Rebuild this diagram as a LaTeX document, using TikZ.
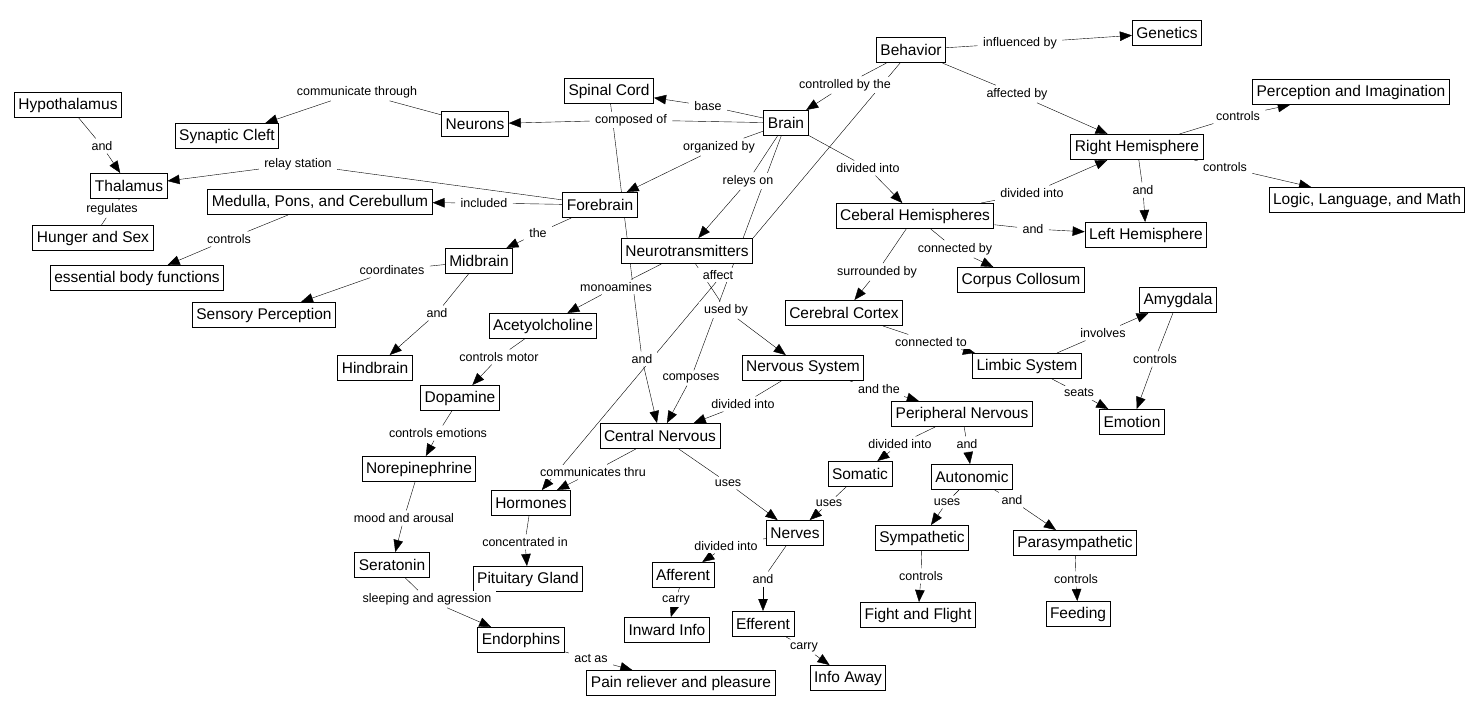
\documentclass[tikz,border=0pt]{standalone}
\usepackage{fontspec}
\setmainfont{Liberation Sans}
\usetikzlibrary{arrows.meta,backgrounds,calc}

\begin{document}
\begin{tikzpicture}[x=1pt,y=-1pt,line width=1pt,
  concept/.style={draw,fill=white,font=\fontsize{15.5}{18}\selectfont,inner xsep=4pt,inner ysep=2pt,minimum height=25pt},
  link/.style={fill=white,font=\fontsize{12.5}{15}\selectfont,inner xsep=5pt,inner ysep=2.5pt},
  arr/.style={-{Triangle[length=12pt,width=9.5pt]}}]
\useasboundingbox (0,0) rectangle (1473,715);

% concepts
\node[concept] (behavior) at (911,50) {Behavior};
\node[concept] (genetics) at (1167,33) {Genetics};
\node[concept] (spinal) at (609,91) {Spinal Cord};
\node[concept] (neurons) at (475,124) {Neurons};
\node[concept] (brain) at (786,123) {Brain};
\node[concept] (hypo) at (68,105) {Hypothalamus};
\node[concept] (synaptic) at (227,136) {Synaptic Cleft};
\node[concept] (thalamus) at (129,186) {Thalamus};
\node[concept] (medulla) at (320,202) {Medulla, Pons, and Cerebullum};
\node[concept] (forebrain) at (600,205) {Forebrain};
\node[concept] (hunger) at (93,238) {Hunger and Sex};
\node[concept] (essential) at (137,278) {essential body functions};
\node[concept] (neurotr) at (687,251) {Neurotransmitters};
\node[concept] (midbrain) at (479,261) {Midbrain};
\node[concept] (sensory) at (264,315) {Sensory Perception};
\node[concept] (acetyl) at (543,326) {Acetyolcholine};
\node[concept] (hindbrain) at (375,368) {Hindbrain};
\node[concept] (dopamine) at (460,398) {Dopamine};
\node[concept] (central) at (660,436) {Central Nervous};
\node[concept] (norepi) at (419,469) {Norepinephrine};
\node[concept] (hormones) at (531,503) {Hormones};
\node[concept] (seratonin) at (392,565) {Seratonin};
\node[concept] (pituitary) at (528,579) {Pituitary Gland};
\node[concept] (endorphins) at (521,640) {Endorphins};
\node[concept] (pain) at (681,683) {Pain reliever and pleasure};
\node[concept] (nervous) at (803,368) {Nervous System};
\node[concept] (ceberal) at (915,216) {Ceberal Hemispheres};
\node[concept] (righthemi) at (1137,147) {Right Hemisphere};
\node[concept] (perception) at (1351,92) {Perception and Imagination};
\node[concept] (logic) at (1367,200) {Logic, Language, and Math};
\node[concept] (lefthemi) at (1146,235) {Left Hemisphere};
\node[concept] (corpus) at (1021,280) {Corpus Collosum};
\node[concept] (cortex) at (844,313) {Cerebral Cortex};
\node[concept] (limbic) at (1027,366) {Limbic System};
\node[concept] (amygdala) at (1178,300) {Amygdala};
\node[concept] (emotion) at (1132,422) {Emotion};
\node[concept] (peripheral) at (962,414) {Peripheral Nervous};
\node[concept] (somatic) at (860,474) {Somatic};
\node[concept] (autonomic) at (972,477) {Autonomic};
\node[concept] (nerves) at (795,533) {Nerves};
\node[concept] (sympathetic) at (922,538) {Sympathetic};
\node[concept] (parasym) at (1075,543) {Parasympathetic};
\node[concept] (efferent) at (763,624) {Efferent};
\node[concept] (fight) at (918,615) {Fight and Flight};
\node[concept] (feeding) at (1078,614) {Feeding};
\node[concept] (infoaway) at (848,678) {Info Away};
\node[concept] (afferent) at (683,575) {Afferent};
\node[concept] (inward) at (667,630) {Inward Info};

% linking phrases
\node[link] (influenced) at (1020,43) {influenced by};
\node[link] (controlledby) at (845,85) {controlled by the};
\node[link] (affectedby) at (1017,94) {affected by};
\node[link] (base) at (708,106) {base};
\node[link] (composedof) at (631,120) {composed of};
\node[link] (organized) at (719,147) {organized by};
\node[link] (releys) at (748,181) {releys on};
\node[link] (divbrain) at (868,168) {divided into};
\node[link] (hypoand) at (102,146) {and};
\node[link] (commthrough) at (357,92) {communicate through};
\node[link] (relay) at (298,164) {relay station};
\node[link] (included) at (484,203) {included};
\node[link] (the) at (538,233) {the};
\node[link] (regulates) at (112,209) {regulates};
\node[link] (ctrlmed) at (229,239) {controls};
\node[link] (coord) at (392,270) {coordinates};
\node[link] (midand) at (437,313) {and};
\node[link] (monoamines) at (616,287) {monoamines};
\node[link] (motor) at (499,357) {controls motor};
\node[link] (emotions) at (438,433) {controls emotions};
\node[link] (mood) at (404,518) {mood and arousal};
\node[link] (sleeping) at (427,599) {sleeping and agression};
\node[link] (actas) at (591,659) {act as};
\node[link] (concentrated) at (525,542) {concentrated in};
\node[link] (commthru) at (593,472) {communicates thru};
\node[link] (usescn) at (728,483) {uses};
\node[link] (divns) at (743,404) {divided into};
\node[link] (andthe) at (879,389) {and the};
\node[link] (divceb) at (1032,193) {divided into};
\node[link] (cerand) at (1033,229) {and};
\node[link] (connby) at (955,249) {connected by};
\node[link] (surrounded) at (877,272) {surrounded by};
\node[link] (rightand) at (1143,190) {and};
\node[link] (ctrlperc) at (1238,116) {controls};
\node[link] (ctrllogic) at (1225,167) {controls};
\node[link] (connto) at (931,342) {connected to};
\node[link] (involves) at (1103,333) {involves};
\node[link] (seats) at (1079,393) {seats};
\node[link] (ctrlamy) at (1155,359) {controls};
\node[link] (divper) at (900,444) {divided into};
\node[link] (perand) at (967,444) {and};
\node[link] (usessom) at (829,503) {uses};
\node[link] (usesaut) at (947,502) {uses};
\node[link] (autand) at (1012,500) {and};
\node[link] (ctrlsym) at (921,576) {controls};
\node[link] (ctrlpara) at (1076,579) {controls};
\node[link] (divnerves) at (726,546) {divided into};
\node[link] (nerveand) at (763,579) {and};
\node[link] (carryaff) at (676,600) {carry};
\node[link] (carryeff) at (804,647) {carry};
\node[link] (affect) at (718,275) {affect};
\node[link] (usedby) at (726,310) {used by};
\node[link] (composes) at (691,378) {composes};
\node[link] (scand) at (642,359) {and};

% connectors
\begin{scope}[on background layer]
\draw (behavior) -- (influenced); \draw[arr] (influenced) -- (genetics);
\draw (behavior) -- (controlledby); \draw[arr] (controlledby) -- (brain);
\draw (behavior) -- (affectedby); \draw[arr] (affectedby) -- (righthemi);
\draw (behavior) -- (neurotr.north east);
\draw (brain) -- (base); \draw[arr] (base) -- (spinal);
\draw (brain) -- (composedof); \draw[arr] (composedof) -- (neurons);
\draw (brain) -- (organized); \draw[arr] (organized) -- (forebrain);
\draw (brain) -- (releys); \draw[arr] (releys) -- (neurotr);
\draw (brain) -- (divbrain); \draw[arr] (divbrain) -- (ceberal);
\draw (brain) -- (composes); \draw[arr] (composes) -- (central);
\draw (hypo) -- (hypoand); \draw[arr] (hypoand) -- (thalamus);
\draw (neurons) -- (commthrough); \draw[arr] (commthrough) -- (synaptic);
\draw (forebrain) -- (relay); \draw[arr] (relay) -- (thalamus);
\draw (forebrain) -- (included); \draw[arr] (included) -- (medulla);
\draw (forebrain) -- (the); \draw[arr] (the) -- (midbrain);
\draw (thalamus) -- (regulates); \draw (regulates) -- (hunger);
\draw (medulla) -- (ctrlmed); \draw[arr] (ctrlmed) -- (essential);
\draw (midbrain) -- (coord); \draw[arr] (coord) -- (sensory);
\draw (midbrain) -- (midand); \draw[arr] (midand) -- (hindbrain);
\draw (neurotr) -- (monoamines); \draw[arr] (monoamines) -- (acetyl);
\draw (acetyl) -- (motor); \draw[arr] (motor) -- (dopamine);
\draw (dopamine) -- (emotions); \draw[arr] (emotions) -- (norepi);
\draw (norepi) -- (mood); \draw[arr] (mood) -- (seratonin);
\draw (seratonin) -- (sleeping); \draw[arr] (sleeping) -- (endorphins);
\draw (endorphins) -- (actas); \draw[arr] (actas) -- (pain);
\draw (hormones) -- (concentrated); \draw[arr] (concentrated) -- (pituitary);
\draw (central) -- (commthru); \draw[arr] (commthru) -- (hormones);
\draw[arr] ([xshift=4pt]affect.center) -- (hormones);
\draw (neurotr) -- (usedby); \draw[arr] (usedby) -- (nervous);
\draw (spinal) -- (scand); \draw[arr] (scand) -- (central);
\draw (central) -- (usescn); \draw[arr] (usescn) -- (nerves);
\draw (nervous) -- (divns); \draw[arr] (divns) -- (central);
\draw (nervous) -- (andthe); \draw[arr] (andthe) -- (peripheral);
\draw (ceberal) -- (divceb); \draw[arr] (divceb) -- (righthemi);
\draw (ceberal) -- (cerand); \draw[arr] (cerand) -- (lefthemi);
\draw (ceberal) -- (connby); \draw[arr] (connby) -- (corpus);
\draw (ceberal) -- (surrounded); \draw[arr] (surrounded) -- (cortex);
\draw (righthemi) -- (rightand); \draw[arr] (rightand) -- (lefthemi);
\draw (righthemi) -- (ctrlperc); \draw[arr] (ctrlperc) -- (perception);
\draw (righthemi) -- (ctrllogic); \draw[arr] (ctrllogic) -- (logic);
\draw (cortex) -- (connto); \draw[arr] (connto) -- (limbic);
\draw (limbic) -- (involves); \draw[arr] (involves) -- (amygdala);
\draw (limbic) -- (seats); \draw[arr] (seats) -- (emotion);
\draw (amygdala) -- (ctrlamy); \draw[arr] (ctrlamy) -- (emotion);
\draw (peripheral) -- (divper); \draw[arr] (divper) -- (somatic);
\draw (peripheral) -- (perand); \draw[arr] (perand) -- (autonomic);
\draw (somatic) -- (usessom); \draw[arr] (usessom) -- (nerves);
\draw (autonomic) -- (usesaut); \draw[arr] (usesaut) -- (sympathetic);
\draw (autonomic) -- (autand); \draw[arr] (autand) -- (parasym);
\draw (sympathetic) -- (ctrlsym); \draw[arr] (ctrlsym) -- (fight);
\draw (parasym) -- (ctrlpara); \draw[arr] (ctrlpara) -- (feeding);
\draw (nerves) -- (divnerves); \draw[arr] (divnerves) -- (afferent);
\draw (nerves) -- (nerveand); \draw[arr] (nerveand) -- (efferent);
\draw (afferent) -- (carryaff); \draw[arr] (carryaff) -- (inward);
\draw (efferent) -- (carryeff); \draw[arr] (carryeff) -- (infoaway);
\end{scope}

\end{tikzpicture}
\end{document}
